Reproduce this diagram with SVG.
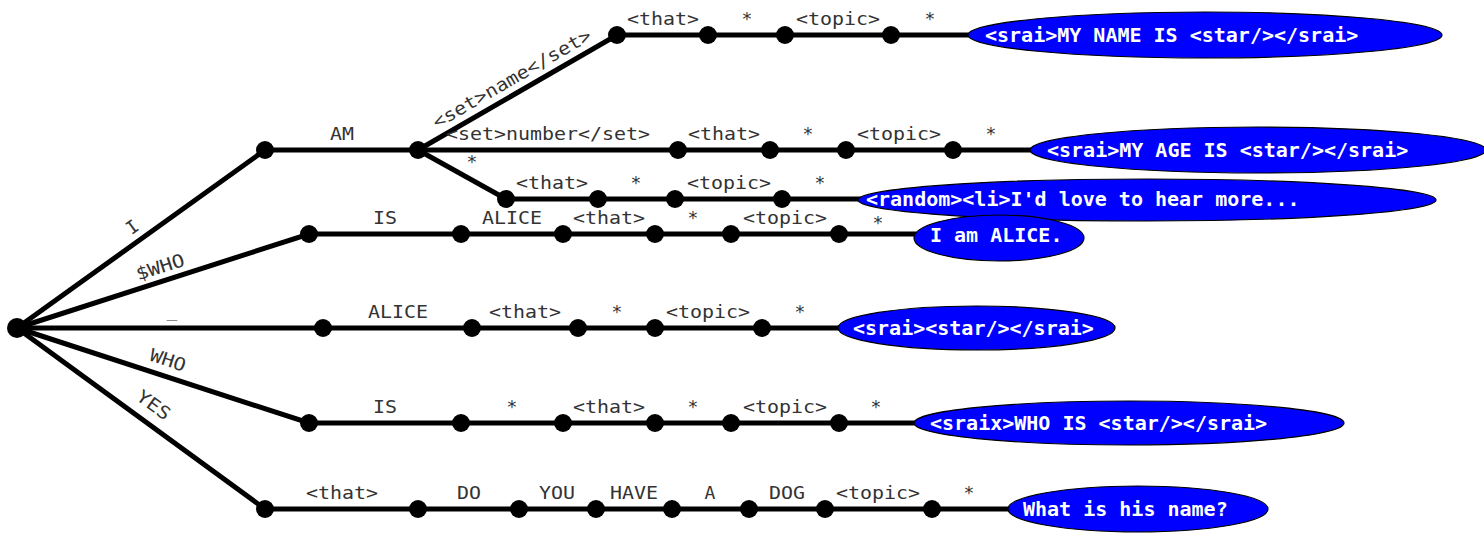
<svg xmlns="http://www.w3.org/2000/svg" width="1484" height="534" viewBox="0 0 1484 534">
<style>
.e{stroke:#000;stroke-width:5;fill:none;stroke-linecap:round}
.d{fill:#000}
.lb{font-family:"DejaVu Sans Mono","Liberation Mono",monospace;font-size:18px;fill:#333;text-anchor:middle}
.o{fill:#0000ff;stroke:#000;stroke-width:1.2}
.ot{font-family:"DejaVu Sans Mono","Liberation Mono",monospace;font-size:20px;font-weight:bold;fill:#fff}
</style>
<rect width="1484" height="534" fill="#fff"/>
<g id="connectors">
<path class="e" d="M17 328L265 150L418 150L678 150L770 150L846 150L953 150L1032 150"/>
<path class="e" d="M418 150L617 35L708 35L785 35L891 35L970 35"/>
<path class="e" d="M418 150L506 199L598 199L675 199L782 199L860 199"/>
<path class="e" d="M17 328L309 234L461 234L563 234L655 234L731 234L839 234L916 234"/>
<path class="e" d="M17 328L323 328L472 328L578 328L655 328L762 328L840 328"/>
<path class="e" d="M17 328L309 423L461 423L563 423L655 423L731 423L839 423L916 423"/>
<path class="e" d="M17 328L265 509L418 509L519 509L596 509L672 509L749 509L825 509L932 509L1010 509"/>
<g id="edge-labels">
<text class="lb" transform="translate(136 232) rotate(-35.8)">I</text>
<text class="lb" transform="translate(162 273) rotate(-17.7)" textLength="50" lengthAdjust="spacingAndGlyphs">$WHO</text>
<text class="lb" x="172" y="317">_</text>
<text class="lb" transform="translate(166 366) rotate(18)" textLength="37" lengthAdjust="spacingAndGlyphs">WHO</text>
<text class="lb" transform="translate(150 410) rotate(36.1)" textLength="37" lengthAdjust="spacingAndGlyphs">YES</text>
<text class="lb" transform="translate(515 84) rotate(-30)" textLength="180" lengthAdjust="spacingAndGlyphs">&lt;set&gt;name&lt;/set&gt;</text>
<text class="lb" x="472" y="168">*</text>
<text class="lb" x="663" y="25" textLength="72" lengthAdjust="spacingAndGlyphs">&lt;that&gt;</text>
<text class="lb" x="747" y="25">*</text>
<text class="lb" x="838" y="25" textLength="84" lengthAdjust="spacingAndGlyphs">&lt;topic&gt;</text>
<text class="lb" x="930" y="25">*</text>
<text class="lb" x="342" y="140" textLength="24" lengthAdjust="spacingAndGlyphs">AM</text>
<text class="lb" x="548" y="140" textLength="204" lengthAdjust="spacingAndGlyphs">&lt;set&gt;number&lt;/set&gt;</text>
<text class="lb" x="724" y="140" textLength="72" lengthAdjust="spacingAndGlyphs">&lt;that&gt;</text>
<text class="lb" x="808" y="140">*</text>
<text class="lb" x="899" y="140" textLength="84" lengthAdjust="spacingAndGlyphs">&lt;topic&gt;</text>
<text class="lb" x="991" y="140">*</text>
<text class="lb" x="552" y="189" textLength="72" lengthAdjust="spacingAndGlyphs">&lt;that&gt;</text>
<text class="lb" x="636" y="189">*</text>
<text class="lb" x="729" y="189" textLength="84" lengthAdjust="spacingAndGlyphs">&lt;topic&gt;</text>
<text class="lb" x="820" y="189">*</text>
<text class="lb" x="385" y="224" textLength="24" lengthAdjust="spacingAndGlyphs">IS</text>
<text class="lb" x="512" y="224" textLength="60" lengthAdjust="spacingAndGlyphs">ALICE</text>
<text class="lb" x="609" y="224" textLength="72" lengthAdjust="spacingAndGlyphs">&lt;that&gt;</text>
<text class="lb" x="693" y="224">*</text>
<text class="lb" x="785" y="224" textLength="84" lengthAdjust="spacingAndGlyphs">&lt;topic&gt;</text>
<text class="lb" x="878" y="229">*</text>
<text class="lb" x="398" y="318" textLength="60" lengthAdjust="spacingAndGlyphs">ALICE</text>
<text class="lb" x="525" y="318" textLength="72" lengthAdjust="spacingAndGlyphs">&lt;that&gt;</text>
<text class="lb" x="617" y="318">*</text>
<text class="lb" x="708" y="318" textLength="84" lengthAdjust="spacingAndGlyphs">&lt;topic&gt;</text>
<text class="lb" x="800" y="318">*</text>
<text class="lb" x="385" y="413" textLength="24" lengthAdjust="spacingAndGlyphs">IS</text>
<text class="lb" x="512" y="413">*</text>
<text class="lb" x="609" y="413" textLength="72" lengthAdjust="spacingAndGlyphs">&lt;that&gt;</text>
<text class="lb" x="693" y="413">*</text>
<text class="lb" x="785" y="413" textLength="84" lengthAdjust="spacingAndGlyphs">&lt;topic&gt;</text>
<text class="lb" x="876" y="413">*</text>
<text class="lb" x="342" y="499" textLength="72" lengthAdjust="spacingAndGlyphs">&lt;that&gt;</text>
<text class="lb" x="469" y="499" textLength="24" lengthAdjust="spacingAndGlyphs">DO</text>
<text class="lb" x="557" y="499" textLength="36" lengthAdjust="spacingAndGlyphs">YOU</text>
<text class="lb" x="634" y="499" textLength="48" lengthAdjust="spacingAndGlyphs">HAVE</text>
<text class="lb" x="710" y="499">A</text>
<text class="lb" x="787" y="499" textLength="36" lengthAdjust="spacingAndGlyphs">DOG</text>
<text class="lb" x="878" y="499" textLength="84" lengthAdjust="spacingAndGlyphs">&lt;topic&gt;</text>
<text class="lb" x="969" y="499">*</text>
</g>
</g>
<g id="root"><circle class="d" cx="17" cy="328" r="10"/></g>
<g id="nB1"><circle class="d" cx="265" cy="150" r="9"/></g>
<g id="nB2"><circle class="d" cx="418" cy="150" r="9"/></g>
<g id="nB3"><circle class="d" cx="678" cy="150" r="9"/></g>
<g id="nB4"><circle class="d" cx="770" cy="150" r="9"/></g>
<g id="nB5"><circle class="d" cx="846" cy="150" r="9"/></g>
<g id="nB6"><circle class="d" cx="953" cy="150" r="9"/></g>
<g id="nA1"><circle class="d" cx="617" cy="35" r="9"/></g>
<g id="nA2"><circle class="d" cx="708" cy="35" r="9"/></g>
<g id="nA3"><circle class="d" cx="785" cy="35" r="9"/></g>
<g id="nA4"><circle class="d" cx="891" cy="35" r="9"/></g>
<g id="nC1"><circle class="d" cx="506" cy="199" r="9"/></g>
<g id="nC2"><circle class="d" cx="598" cy="199" r="9"/></g>
<g id="nC3"><circle class="d" cx="675" cy="199" r="9"/></g>
<g id="nC4"><circle class="d" cx="782" cy="199" r="9"/></g>
<g id="nD1"><circle class="d" cx="309" cy="234" r="9"/></g>
<g id="nD2"><circle class="d" cx="461" cy="234" r="9"/></g>
<g id="nD3"><circle class="d" cx="563" cy="234" r="9"/></g>
<g id="nD4"><circle class="d" cx="655" cy="234" r="9"/></g>
<g id="nD5"><circle class="d" cx="731" cy="234" r="9"/></g>
<g id="nD6"><circle class="d" cx="839" cy="234" r="9"/></g>
<g id="nE1"><circle class="d" cx="323" cy="328" r="9"/></g>
<g id="nE2"><circle class="d" cx="472" cy="328" r="9"/></g>
<g id="nE3"><circle class="d" cx="578" cy="328" r="9"/></g>
<g id="nE4"><circle class="d" cx="655" cy="328" r="9"/></g>
<g id="nE5"><circle class="d" cx="762" cy="328" r="9"/></g>
<g id="nF1"><circle class="d" cx="309" cy="423" r="9"/></g>
<g id="nF2"><circle class="d" cx="461" cy="423" r="9"/></g>
<g id="nF3"><circle class="d" cx="563" cy="423" r="9"/></g>
<g id="nF4"><circle class="d" cx="655" cy="423" r="9"/></g>
<g id="nF5"><circle class="d" cx="731" cy="423" r="9"/></g>
<g id="nF6"><circle class="d" cx="839" cy="423" r="9"/></g>
<g id="nG1"><circle class="d" cx="265" cy="509" r="9"/></g>
<g id="nG2"><circle class="d" cx="418" cy="509" r="9"/></g>
<g id="nG3"><circle class="d" cx="519" cy="509" r="9"/></g>
<g id="nG4"><circle class="d" cx="596" cy="509" r="9"/></g>
<g id="nG5"><circle class="d" cx="672" cy="509" r="9"/></g>
<g id="nG6"><circle class="d" cx="749" cy="509" r="9"/></g>
<g id="nG7"><circle class="d" cx="825" cy="509" r="9"/></g>
<g id="nG8"><circle class="d" cx="932" cy="509" r="9"/></g>
<g id="tA"><ellipse class="o" cx="1205" cy="35" rx="237" ry="23"/><text class="ot" x="985" y="42">&lt;srai&gt;MY NAME IS &lt;star/&gt;&lt;/srai&gt;</text></g>
<g id="tB"><ellipse class="o" cx="1258" cy="150" rx="228" ry="23"/><text class="ot" x="1047" y="157">&lt;srai&gt;MY AGE IS &lt;star/&gt;&lt;/srai&gt;</text></g>
<g id="tC"><ellipse class="o" cx="1147" cy="200" rx="289" ry="21"/><text class="ot" x="866" y="206">&lt;random&gt;&lt;li&gt;I'd love to hear more...</text></g>
<g id="tD"><ellipse class="o" cx="999" cy="238" rx="85" ry="23"/><text class="ot" x="930" y="242">I am ALICE.</text></g>
<g id="tE"><ellipse class="o" cx="976.5" cy="328" rx="138.5" ry="22"/><text class="ot" x="853" y="335">&lt;srai&gt;&lt;star/&gt;&lt;/srai&gt;</text></g>
<g id="tF"><ellipse class="o" cx="1129" cy="423" rx="215" ry="22"/><text class="ot" x="930" y="430">&lt;sraix&gt;WHO IS &lt;star/&gt;&lt;/srai&gt;</text></g>
<g id="tG"><ellipse class="o" cx="1138" cy="509" rx="130" ry="23"/><text class="ot" x="1023" y="516">What is his name?</text></g>
</svg>
